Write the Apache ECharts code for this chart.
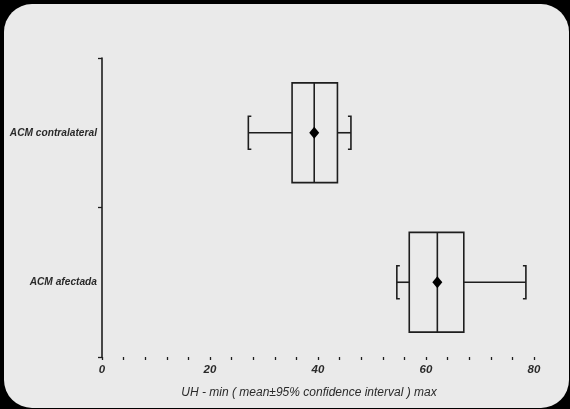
<!DOCTYPE html>
<html>
<head>
<meta charset="utf-8">
<script src="https://cdn.jsdelivr.net/npm/echarts@6/dist/echarts.min.js"></script>
<style>
  html, body { margin: 0; padding: 0; background: #000; }
  #chart { width: 570px; height: 409px; }
</style>
</head>
<body>
<div id="chart"></div>
<script>
// groups (first one is drawn at the bottom)
var categories = ['ACM afectada', 'ACM contralateral'];
var whiskerLow  = [54.6, 27.1];
var boxLow      = [56.9, 35.2];
var medians     = [62.1, 39.3];
var boxHigh     = [67.0, 43.6];
var whiskerHigh = [78.5, 46.1];
var means       = [62.1, 39.3];

var xTicks = [0, 20, 40, 60, 80];

var LINE = '#1e1e1e';
var TEXT = '#2a2a2a';

function buildData(){
    var res = [];
    for (var i = 0; i < categories.length; i++) {
        res.push([i, whiskerLow[i], boxLow[i], medians[i], boxHigh[i], whiskerHigh[i], means[i]]);
    }
    return res;
}

function renderBox(params, api){
    var cat = api.value(0);
    var band = api.size([0, 1])[1];
    var c = api.coord([0, cat])[1];
    var x = function(v){ return api.coord([v, cat])[0]; };

    var wl = x(api.value(1)), bl = x(api.value(2)), md = x(api.value(3));
    var bh = x(api.value(4)), wh = x(api.value(5)), mn = x(api.value(6));

    var boxH = band * 0.667;
    var capH = band * 0.22;
    var hook = 3;
    var st = { stroke: LINE, lineWidth: 1.6, fill: null };

    return {
        type: 'group',
        children: [
            { type: 'rect', shape: { x: bl, y: c - boxH / 2, width: bh - bl, height: boxH }, style: st },
            { type: 'line', shape: { x1: md, y1: c - boxH / 2, x2: md, y2: c + boxH / 2 }, style: st },
            { type: 'line', shape: { x1: wl, y1: c, x2: bl, y2: c }, style: st },
            { type: 'line', shape: { x1: bh, y1: c, x2: wh, y2: c }, style: st },
            // bracket caps
            { type: 'polyline', shape: { points: [[wl + hook, c - capH / 2], [wl, c - capH / 2], [wl, c + capH / 2], [wl + hook, c + capH / 2]] }, style: st },
            { type: 'polyline', shape: { points: [[wh - hook, c - capH / 2], [wh, c - capH / 2], [wh, c + capH / 2], [wh - hook, c + capH / 2]] }, style: st },
            // mean marker
            { type: 'polygon', shape: { points: [[mn, c - 6], [mn + 5, c], [mn, c + 6], [mn - 5, c]] }, style: { fill: '#000' } }
        ]
    };
}

var chart = echarts.init(document.getElementById('chart'));

var opts = {
    backgroundColor: '#000',
    animation: false,
    graphic: [{
        type: 'rect',
        z: -10,
        silent: true,
        shape: { x: 4, y: 4, width: 565, height: 404, r: 28 },
        style: { fill: '#eaeaea' }
    }],
    grid: {
        left: 102,
        right: 36,
        top: 58,
        bottom: 52
    },
    xAxis: {
        type: 'value',
        min: 0,
        max: 80,
        interval: 20,
        name: 'UH - min ( mean\u00b195% confidence interval ) max',
        nameLocation: 'middle',
        nameGap: 30,
        nameTextStyle: {
            fontFamily: 'Liberation Sans',
            fontStyle: 'italic',
            fontSize: 12,
            color: TEXT,
            padding: [0, 18, 0, 0]
        },
        axisLine: { lineStyle: { color: LINE, width: 1.6 } },
        axisTick: { show: true, length: 3, lineStyle: { color: LINE, width: 1.3 } },
        minorTick: { show: true, splitNumber: 5, length: 3, lineStyle: { color: LINE, width: 1.3 } },
        splitLine: { show: false },
        axisLabel: {
            margin: 7,
            fontFamily: 'Liberation Sans',
            fontStyle: 'italic',
            fontWeight: 'bold',
            fontSize: 11.5,
            color: TEXT,
            formatter: function(v){ return xTicks.indexOf(v) >= 0 ? String(v) : ''; }
        }
    },
    yAxis: {
        type: 'category',
        data: categories,
        axisLine: { lineStyle: { color: LINE, width: 1.6 } },
        axisTick: { show: true, length: 4, lineStyle: { color: LINE, width: 1.3 } },
        splitLine: { show: false },
        axisLabel: {
            margin: 5,
            fontFamily: 'Liberation Sans',
            fontStyle: 'italic',
            fontWeight: 'bold',
            fontSize: 10.2,
            color: TEXT
        }
    },
    series: [{
        type: 'custom',
        renderItem: renderBox,
        encode: { x: [1, 2, 3, 4, 5, 6], y: 0 },
        data: buildData()
    }]
};

chart.setOption(opts);
</script>
</body>
</html>
